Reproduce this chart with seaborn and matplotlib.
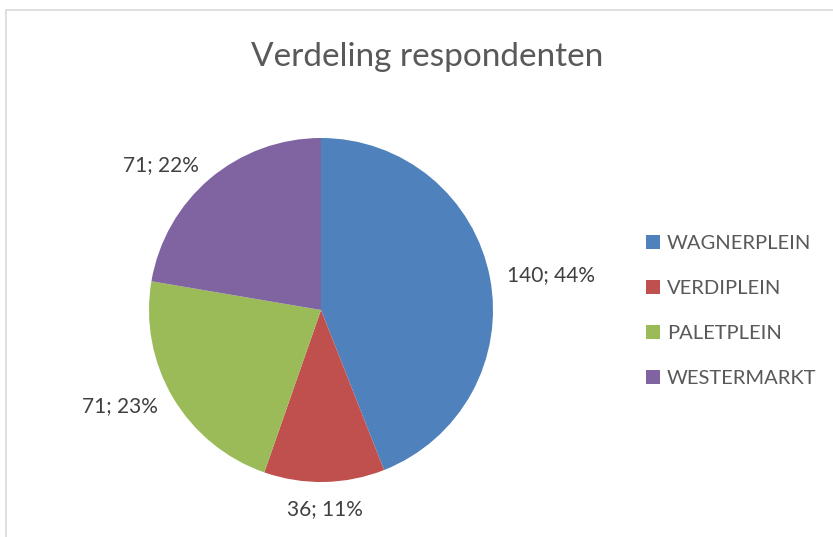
import numpy as np
import matplotlib
matplotlib.use("Agg")
import matplotlib.pyplot as plt
import matplotlib.patches as mpatches
import seaborn as sns

sns.set_theme(style="white")
plt.rcParams['font.family'] = ['Lato', 'DejaVu Sans']

categories = ["WAGNERPLEIN", "VERDIPLEIN", "PALETPLEIN", "WESTERMARKT"]
values = [140, 36, 71, 71]
percent_labels = ["44%", "11%", "23%", "22%"]
colors = ["#4F81BD", "#C0504D", "#9BBB59", "#8064A2"]
title = "Verdeling respondenten"

W, H = 833, 537
fig = plt.figure(figsize=(W / 100, H / 100), dpi=100)
fig.patch.set_facecolor("white")

# chart border
fig.add_artist(mpatches.Rectangle((6 / W, -0.1), 1.2, 1.1 - 10 / H, transform=fig.transFigure,
                                  fill=False, edgecolor="#D9D9D9", linewidth=1.2))

cx, cy, R = 321, 310, 172
ax = fig.add_axes([(cx - R) / W, (H - cy - R) / H, 2 * R / W, 2 * R / H])
wedges, _ = ax.pie(values, colors=colors, startangle=90, counterclock=False, radius=1,
                   wedgeprops=dict(edgecolor="none", linewidth=0))
ax.set_xlim(-1, 1)
ax.set_ylim(-1, 1)
ax.axis("off")

for w, v, p in zip(wedges, values, percent_labels):
    ang = np.deg2rad((w.theta1 + w.theta2) / 2)
    c, s = np.cos(ang), np.sin(ang)
    d = 1.1
    ha = "left" if c > 0.3 else ("right" if c < -0.3 else "center")
    va = "top" if s < -0.9 else ("bottom" if s > 0.9 else "center")
    ax.text(d * c, d * s, f"{v}; {p}", ha=ha, va=va, fontsize=15, color="#404040")

fig.text(427.5 / W, 1 - 57 / H, title, ha="center", va="center", fontsize=24, color="#595959")

handles = [mpatches.Patch(facecolor=col, edgecolor="none") for col in colors]
fig.legend(handles, categories, loc="center left", bbox_to_anchor=(646 / W, 1 - 311 / H),
           frameon=False, fontsize=14.5, labelcolor="#595959", handlelength=0.7, handleheight=0.7,
           handletextpad=0.35, labelspacing=1.4, borderaxespad=0, borderpad=0)

fig.savefig("out.png", dpi=100, facecolor="white")
